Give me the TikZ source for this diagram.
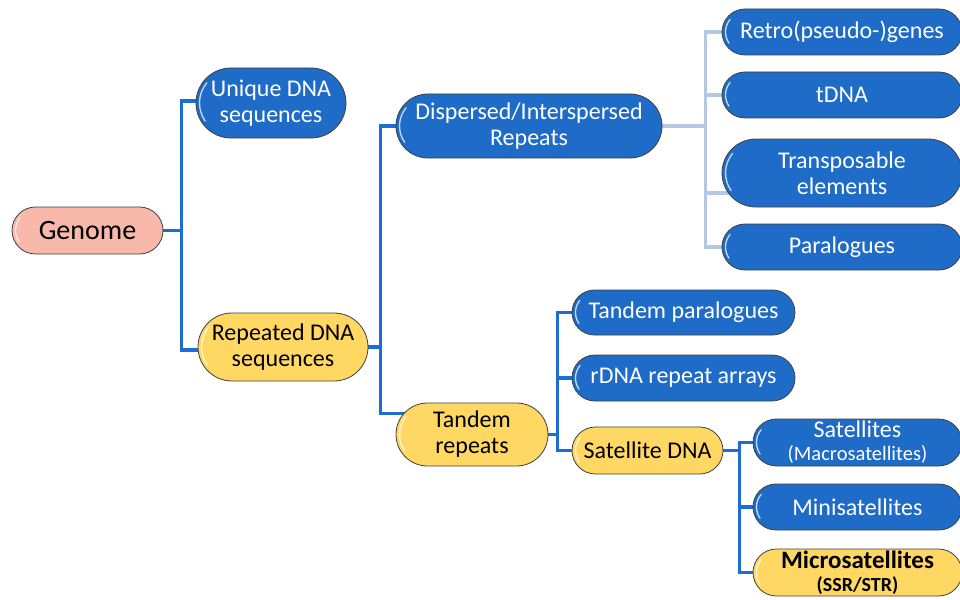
\documentclass[tikz,border=0pt]{standalone}
\usepackage{fontspec}
\setmainfont{Carlito}
\usetikzlibrary{backgrounds,calc}
\definecolor{nodeblue}{HTML}{1E6CC7}
\definecolor{nodeyellow}{HTML}{FFD763}
\definecolor{nodepink}{HTML}{F8B8AA}
\definecolor{connblue}{HTML}{1B6FD2}
\definecolor{lightconn}{HTML}{B4C7E7}
\tikzset{
  sz/.style 2 args={minimum width=#1pt, minimum height=#2pt, rounded corners=#2*0.5pt},
  gloss/.style={path picture={
    \draw[white, line width=1.3pt, opacity=0.75, line cap=round]
      let \p1=(path picture bounding box.north west), \p2=(path picture bounding box.south east),
          \n1={(\y1-\y2)/2} in
      ($(\x1,\y2)+(\n1*1pt+0pt,\n1*1pt)$) ++(140:{\n1*1pt-3.5pt}) arc[start angle=140, end angle=215, radius={\n1*1pt-3.5pt}];
  }},
  pill/.style={rectangle, draw=black!75, line width=0.8pt, inner sep=0pt,
    align=center, font=\fontsize{24}{26}\selectfont, gloss},
  bluep/.style={pill, fill=nodeblue, text=white},
  yellowp/.style={pill, fill=nodeyellow, text=black},
  pinkp/.style={pill, fill=nodepink, text=black},
  conn/.style={draw=connblue, line width=3.5pt},
  lconn/.style={draw=lightconn, line width=3.5pt},
}
\begin{document}
\begin{tikzpicture}[x=1pt,y=-1pt]
\useasboundingbox (0,0) rectangle (960,599);
\clip (0,0) rectangle (960,599);
% nodes
\node[pinkp, sz={151}{47}, font=\fontsize{28}{30}\selectfont] (genome) at (87.5,230.5) {Genome};
\node[bluep, sz={150}{70}] (unique) at (271,103) {Unique DNA\\sequences};
\node[yellowp, sz={170}{68}] (repeated) at (283,347) {Repeated DNA\\sequences};
\node[bluep, sz={266}{64}] (dispersed) at (529,126) {Dispersed/Interspersed\\Repeats};
\node[yellowp, sz={152}{63}] (tandem) at (472,434.5) {Tandem\\repeats};
\node[bluep, sz={240}{46}] (retro) at (842,32) {Retro(pseudo-)genes};
\node[bluep, sz={240}{46}] (tdna) at (842,95) {tDNA};
\node[bluep, sz={240}{68}] (transp) at (842,173) {Transposable\\elements};
\node[bluep, sz={240}{46}] (paralog) at (842,247) {Paralogues};
\node[bluep, sz={223}{45}] (tandpara) at (683.5,312.5) {Tandem paralogues};
\node[bluep, sz={223}{46}] (rdna) at (683.5,378) {rDNA repeat arrays};
\node[yellowp, sz={151}{47}] (satdna) at (647.5,450.5) {Satellite DNA};
\node[bluep, sz={209}{47}, font=\fontsize{24}{23}\selectfont] (sats) at (857.5,442.5) {Satellites\\{\fontsize{20.5}{22}\selectfont (Macrosatellites)}};
\node[bluep, sz={209}{46}] (mini) at (857.5,507) {Minisatellites};
\node[yellowp, sz={209}{47}, font=\fontsize{25}{23}\selectfont\bfseries] (micro) at (857.5,572.5) {Microsatellites\\{\fontsize{20}{22}\selectfont (SSR/STR)}};
% connectors
\begin{scope}[on background layer]
\coordinate (j1) at ($(genome.east)+(18,0)$);
\draw[conn] (genome.east) -- (j1);
\draw[conn] ([xshift=10pt,yshift=2pt]unique.west) -| (j1) |- ([xshift=10pt,yshift=-3pt]repeated.west);
\coordinate (j2) at ($(repeated.east)+(12,0)$);
\draw[conn] (repeated.east) -- (j2);
\draw[conn] ([xshift=10pt]dispersed.west) -| (j2) |- ([xshift=14pt,yshift=21pt]tandem.west);
\coordinate (j3) at ($(dispersed.east)+(43,0)$);
\draw[lconn] (dispersed.east) -- (j3);
\draw[lconn] ([xshift=10pt]retro.west) -| (j3) |- ([xshift=10pt]paralog.west);
\draw[lconn] (j3) |- ([xshift=10pt]tdna.west);
\draw[lconn] (j3) |- ([xshift=14pt,yshift=-20pt]transp.west);
\coordinate (j4) at ($(tandem.east)+(9,0)$);
\draw[conn] (tandem.east) -- (j4);
\draw[conn] ([xshift=10pt]tandpara.west) -| (j4) |- ([xshift=10pt]satdna.west);
\draw[conn] (j4) |- ([xshift=10pt]rdna.west);
\coordinate (j5) at ($(satdna.east)+(16,0)$);
\draw[conn] (satdna.east) -- (j5);
\draw[conn] ([xshift=10pt]sats.west) -| (j5) |- ([xshift=10pt]micro.west);
\draw[conn] (j5) |- ([xshift=10pt]mini.west);
\end{scope}
\end{tikzpicture}
\end{document}
